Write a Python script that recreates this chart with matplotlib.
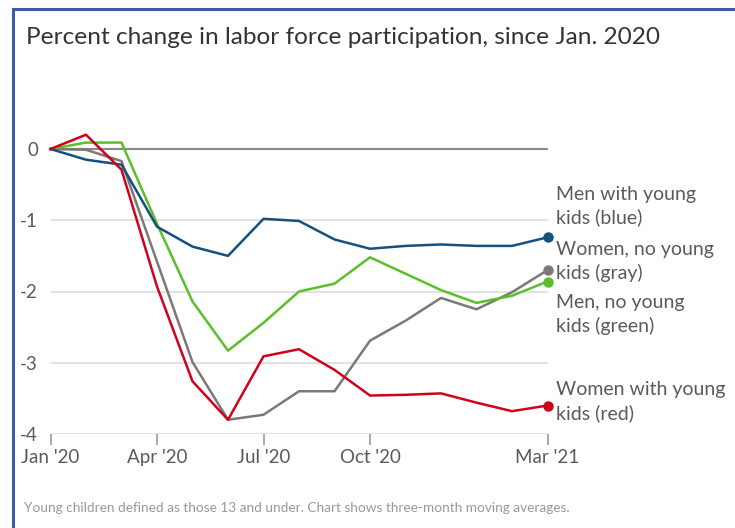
import numpy as np
import matplotlib.pyplot as plt
from matplotlib.lines import Line2D

plt.rcParams['font.family'] = ['Lato', 'DejaVu Sans']

# months since Jan 2020 (Jan '20 .. Mar '21)
months = list(range(15))
tick_pos = [0, 3, 6, 9, 14]
tick_labels = ["Jan '20", "Apr '20", "Jul '20", "Oct '20", "Mar '21"]

men_kids = [0, -0.15, -0.22, -1.09, -1.37, -1.50, -0.98, -1.01, -1.27, -1.40, -1.36, -1.34, -1.36, -1.36, -1.24]
women_nokids = [0, -0.01, -0.17, -1.58, -2.99, -3.80, -3.73, -3.40, -3.40, -2.69, -2.41, -2.09, -2.25, -2.01, -1.70]
men_nokids = [0, 0.09, 0.09, -1.05, -2.14, -2.83, -2.44, -2.00, -1.89, -1.52, -1.75, -1.98, -2.16, -2.06, -1.86]
women_kids = [0, 0.20, -0.29, -1.93, -3.26, -3.80, -2.91, -2.81, -3.10, -3.46, -3.45, -3.43, -3.56, -3.68, -3.60]

series = [
    (women_nokids, '#7d7875', "Women, no young\nkids (gray)", 9),
    (men_nokids, '#5cbf2a', "Men, no young\nkids (green)", -33),
    (men_kids, '#15507f', "Men with young\nkids (blue)", 31),
    (women_kids, '#d0021b', "Women with young\nkids (red)", 4),
]

fig = plt.figure(figsize=(7.35, 5.28), dpi=100)
W, H = 735, 528
x0, x1 = 50.5, 547.5
ypx0, ypx4 = 149, 434
ymin, ymax = -4, 0.3
top_px = ypx0 - 0.3 * (ypx4 - ypx0) / 4
ax = fig.add_axes([x0 / W, 1 - ypx4 / H, (x1 - x0) / W, (ypx4 - top_px) / H])
ax.set_xlim(0, 14)
ax.set_ylim(ymin, ymax)

for y in [-1, -2, -3, -4]:
    ax.axhline(y, color='#dddddd', lw=1.2, zorder=0)
ax.axhline(0, color='#888888', lw=1.5, zorder=1)

for vals, col, lab, off in series:
    ax.plot(months, vals, color=col, lw=1.8, zorder=3, clip_on=False)
    ax.plot(months[-1], vals[-1], 'o', color=col, ms=6.5, zorder=4, clip_on=False)
    ax.annotate(lab, xy=(months[-1], vals[-1]), xytext=(9, off), textcoords='offset pixels',
                ha='left', va='center', fontsize=14, color='#5a5a5a', linespacing=1.38,
                annotation_clip=False)

for s in ax.spines.values():
    s.set_visible(False)
ax.set_xticks(tick_pos)
ax.set_xticklabels(tick_labels)
ax.set_yticks([0, -1, -2, -3, -4])
ax.set_yticklabels(['0', '-1', '-2', '-3', '-4'])
ax.tick_params(axis='x', length=8, width=1.2, color='#999999', labelsize=13.5,
               labelcolor='#5a5a5a', pad=3, direction='out')
ax.tick_params(axis='y', length=0, labelsize=13.5, labelcolor='#5a5a5a', pad=9)

fig.text(26 / W, 1 - 37 / H, "Percent change in labor force participation, since Jan. 2020",
         fontsize=17.6, color='#333333', ha='left', va='center')
fig.text(24 / W, 1 - 508 / H,
         "Young children defined as those 13 and under. Chart shows three-month moving averages.",
         fontsize=9.8, color='#999999', ha='left', va='center')

# blue frame on top and left
fig.add_artist(Line2D([12.5 / W, 12.5 / W], [0, 1 - 9 / H], color='#3b5ba5', lw=2.2))
fig.add_artist(Line2D([12.5 / W, 1], [1 - 9 / H, 1 - 9 / H], color='#3b5ba5', lw=2.2))

fig.savefig('out.png', dpi=100)
